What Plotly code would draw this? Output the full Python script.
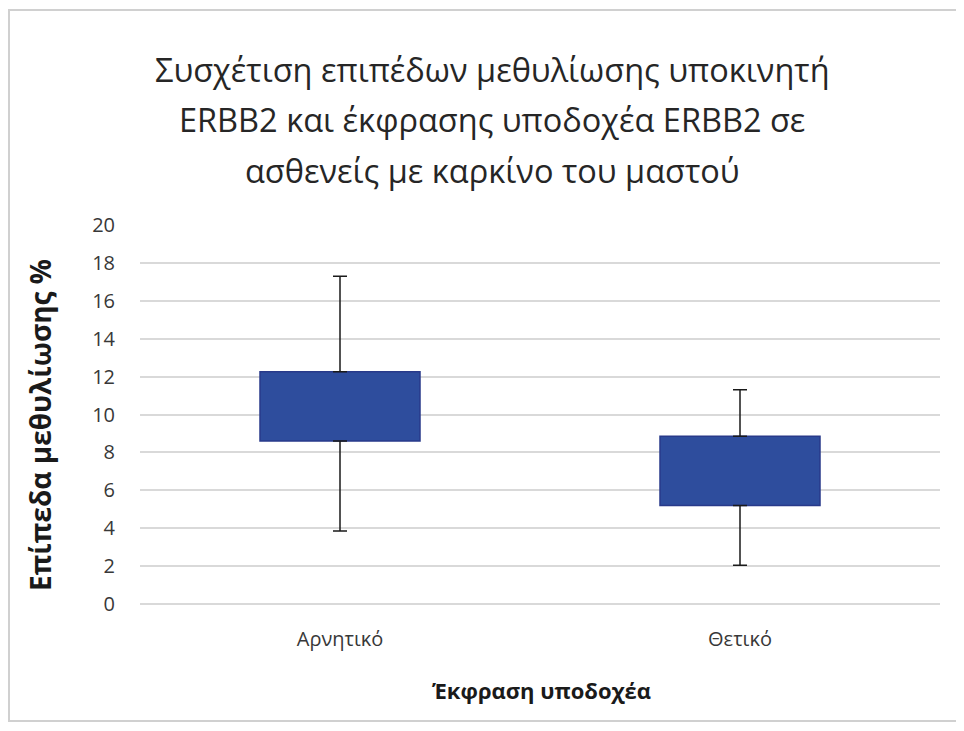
import plotly.graph_objects as go

# data
categories = ["Αρνητικό", "Θετικό"]
q1 = [8.6, 5.2]
q3 = [12.25, 8.85]
lower = [3.85, 2.05]
upper = [17.3, 11.3]
y_ticks = list(range(0, 21, 2))

title_lines = [
    "Συσχέτιση επιπέδων μεθυλίωσης υποκινητή",
    "ERBB2 και έκφρασης υποδοχέα ERBB2 σε",
    "ασθενείς με καρκίνο του μαστού",
]

FONT = "Open Sans"
# the page body adds an 8px margin, so the figure is a bit smaller than the window
OFF = 8
W, H = 948, 715
L, R, T, B = 132, 16, 217, 119
plot_h = H - T - B
plot_w = W - L - R


def py(page_y):
    # page pixel row -> paper y
    return (H - B - (page_y - OFF)) / plot_h


def px_(page_x):
    return (page_x - OFF - L) / plot_w


fig = go.Figure()

# lower whiskers (drawn from q1 down)
fig.add_trace(go.Scatter(
    x=categories, y=q1, mode="markers",
    marker=dict(size=1, color="rgba(0,0,0,0)"),
    error_y=dict(type="data", symmetric=False,
                 array=[0, 0], arrayminus=[a - b for a, b in zip(q1, lower)],
                 color="#1a1a1a", thickness=1.5, width=7),
    hoverinfo="skip", showlegend=False,
))
# upper whiskers (drawn from q3 up)
fig.add_trace(go.Scatter(
    x=categories, y=q3, mode="markers",
    marker=dict(size=1, color="rgba(0,0,0,0)"),
    error_y=dict(type="data", symmetric=False,
                 array=[a - b for a, b in zip(upper, q3)], arrayminus=[0, 0],
                 color="#1a1a1a", thickness=1.5, width=7),
    hoverinfo="skip", showlegend=False,
))
# boxes
fig.add_trace(go.Bar(
    x=categories, base=q1, y=[a - b for a, b in zip(q3, q1)],
    marker=dict(color="#2E4D9D", line=dict(color="#283A8A", width=1.5)),
    showlegend=False,
))

annotations = []
for i, line in enumerate(title_lines):
    annotations.append(dict(
        text=line, xref="paper", yref="paper",
        x=px_(492), y=py(70 + 50 * i),
        xanchor="center", yanchor="middle", showarrow=False,
        font=dict(family=FONT, size=32.5, color="#262626"),
    ))
annotations.append(dict(
    text="<b>Επίπεδα μεθυλίωσης %</b>", xref="paper", yref="paper",
    x=px_(40), y=py(425), textangle=-90,
    xanchor="center", yanchor="middle", showarrow=False,
    font=dict(family=FONT, size=28, color="#1a1a1a"),
))
annotations.append(dict(
    text="<b>Έκφραση υποδοχέα</b>", xref="paper", yref="paper",
    x=px_(541), y=py(690),
    xanchor="center", yanchor="middle", showarrow=False,
    font=dict(family=FONT, size=22, color="#1a1a1a"),
))

fig.update_layout(
    width=W, height=H,
    margin=dict(l=L, r=R, t=T, b=B),
    paper_bgcolor="white", plot_bgcolor="white",
    bargap=0.6,
    annotations=annotations,
    shapes=[dict(type="rect", xref="paper", yref="paper",
                 x0=px_(9), x1=px_(962), y0=py(721), y1=py(10),
                 line=dict(color="#D0D0D0", width=2), layer="below")],
    xaxis=dict(
        tickfont=dict(family=FONT, size=20, color="#383838"),
        showgrid=False, showline=False, ticks="", ticklabelstandoff=21,
    ),
    yaxis=dict(
        range=[0, 20], tickvals=y_ticks,
        tickfont=dict(family=FONT, size=20, color="#383838"),
        showgrid=True, gridcolor="#D9D9D9", gridwidth=1.5,
        zeroline=True, zerolinecolor="#D9D9D9", zerolinewidth=1.5,
        showline=False, ticks="", ticklabelstandoff=24,
    ),
)

fig.write_html("out.html")
